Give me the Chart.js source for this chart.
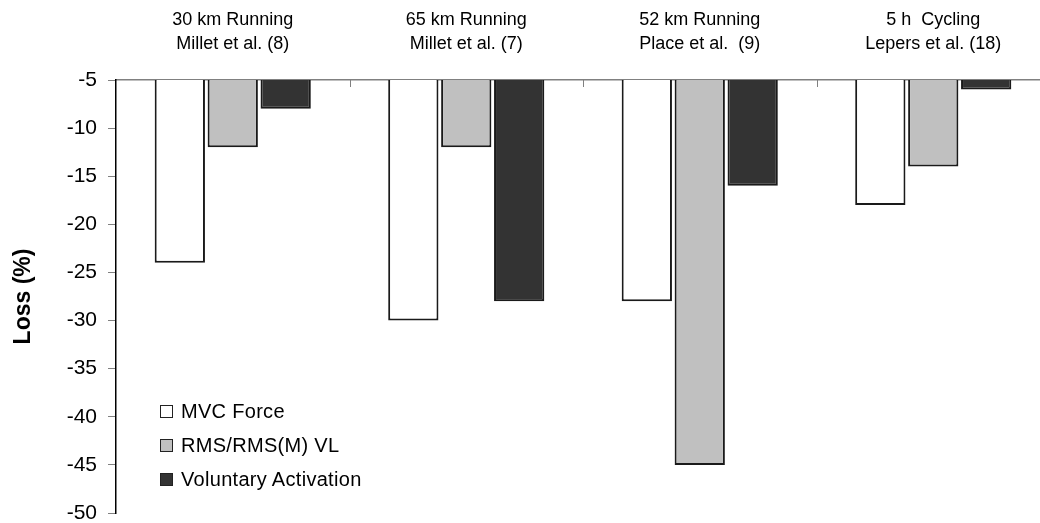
<!DOCTYPE html>
<html>
<head>
<meta charset="utf-8">
<script src="https://cdn.jsdelivr.net/npm/chart.js@4/dist/chart.umd.min.js"></script>
<style>
  html, body { margin: 0; padding: 0; background: #fff; overflow: hidden; width: 1040px; height: 523px; }
  #wrap { position: relative; width: 1050px; height: 523px; }
  #legend { position: absolute; left: 160px; top: 394px; font-family: "Liberation Sans", Arial, sans-serif; font-size: 20px; letter-spacing: 0.3px; color: #000; }
  .item { height: 34px; display: flex; align-items: center; }
  .box { width: 11px; height: 11px; border: 1.5px solid #222; margin-right: 8px; box-sizing: content-box; }
</style>
</head>
<body>
<div id="wrap">
  <canvas id="c" width="1050" height="523"></canvas>
  <div id="legend"></div>
</div>
<script>
const categories = [
  ["30 km Running", "Millet et al. (8)"],
  ["65 km Running", "Millet et al. (7)"],
  ["52 km Running", "Place et al.  (9)"],
  ["5 h  Cycling", "Lepers et al. (18)"]
];
const seriesNames = ["MVC Force", "RMS/RMS(M) VL", "Voluntary Activation"];
const mvcForce = [-24, -30, -28, -18];
const rmsVL = [-12, -12, -45, -14];
const voluntaryActivation = [-8, -28, -16, -6];
const seriesColors = ["#ffffff", "#c0c0c0", "#333333"];
const yMin = -50, yMax = -5, yStep = 5;
const yTitle = "Loss (%)";

const allSeries = [mvcForce, rmsVL, voluntaryActivation];

const innerTicks = {
  id: 'innerTicks',
  afterDraw(chart) {
    const xs = chart.scales.x;
    const ctx = chart.ctx;
    ctx.save();
    ctx.strokeStyle = '#808080';
    ctx.lineWidth = 1;
    for (let i = 1; i < categories.length; i++) {
      const x = Math.round((xs.getPixelForValue(i - 1) + xs.getPixelForValue(i)) / 2) + 0.5;
      ctx.beginPath();
      ctx.moveTo(x, chart.chartArea.top);
      ctx.lineTo(x, chart.chartArea.top + 7);
      ctx.stroke();
    }
    ctx.restore();
  }
};

new Chart(document.getElementById('c'), {
  type: 'bar',
  data: {
    labels: categories,
    datasets: allSeries.map((d, i) => ({
      label: seriesNames[i],
      data: d,
      backgroundColor: seriesColors[i],
      borderColor: '#1a1a1a',
      borderWidth: 2,
      categoryPercentage: 0.68,
      barPercentage: 0.95
    }))
  },
  options: {
    responsive: false,
    animation: false,
    layout: { padding: { top: 0, right: 0, bottom: 10, left: 0 } },
    plugins: { legend: { display: false }, tooltip: { enabled: false } },
    scales: {
      x: {
        position: 'top',
        grid: { display: true, drawOnChartArea: false, drawTicks: false },
        border: { display: true, color: '#808080', width: 1.5 },
        ticks: {
          color: '#000',
          font: { family: '"Liberation Sans", Arial, sans-serif', size: 18, lineHeight: 1.35 },
          padding: 24
        },
        afterFit(scale) { scale.height = 80; scale.paddingLeft = 0; scale.paddingRight = 0; }
      },
      y: {
        min: yMin, max: yMax,
        grid: { drawOnChartArea: false, drawTicks: true, tickLength: 8, color: '#808080' },
        border: { display: true, color: '#000', width: 1.5 },
        ticks: {
          stepSize: yStep,
          color: '#000',
          padding: 11,
          font: { family: '"Liberation Sans", Arial, sans-serif', size: 21 }
        },
        title: {
          display: true,
          text: yTitle,
          color: '#000',
          font: { family: '"Liberation Sans", Arial, sans-serif', size: 23, weight: 'bold' },
          padding: { top: 10, bottom: 0 }
        },
        afterFit(scale) { scale.width = 116; scale.paddingTop = 0; scale.paddingBottom = 0; }
      }
    }
  },
  plugins: [innerTicks]
});

const leg = document.getElementById('legend');
seriesNames.forEach((n, i) => {
  const it = document.createElement('div');
  it.className = 'item';
  const b = document.createElement('span');
  b.className = 'box';
  b.style.background = seriesColors[i];
  const t = document.createElement('span');
  t.textContent = n;
  it.appendChild(b); it.appendChild(t);
  leg.appendChild(it);
});
</script>
</body>
</html>
